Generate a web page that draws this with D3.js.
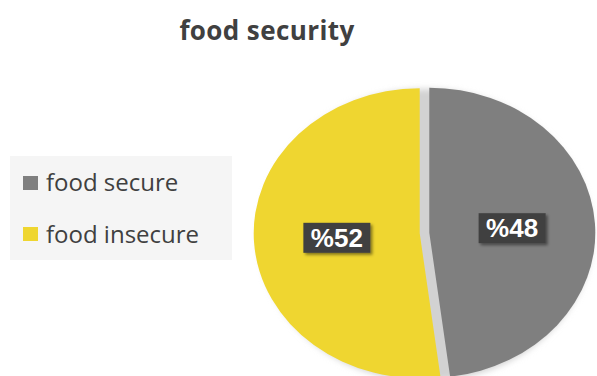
<!DOCTYPE html>
<html><head><meta charset="utf-8">
<script src="https://cdn.jsdelivr.net/npm/d3@7"></script>
<style>body{margin:0;background:#fff}svg{display:block}</style>
</head><body>
<svg id="c" width="597" height="376"></svg>
<script>
const title = "food security";
const categories = ["food secure", "food insecure"];
const values = [48, 52];
const labels = ["%48", "%52"];
const colors = ["#7f7f7f", "#efd630"];

const svg = d3.select("#c");
const defs = svg.append("defs");
const blur = defs.append("filter").attr("id","blur").attr("x","-20%").attr("y","-20%").attr("width","140%").attr("height","140%");
blur.append("feGaussianBlur").attr("stdDeviation", 3);
const ds = defs.append("filter").attr("id","ds").attr("x","-20%").attr("y","-30%").attr("width","150%").attr("height","170%");
ds.append("feDropShadow").attr("dx",2).attr("dy",2).attr("stdDeviation",1.5).attr("flood-color","#000").attr("flood-opacity",0.45);

svg.append("rect").attr("width",597).attr("height",376).attr("fill","#fff");

// title
svg.append("text").attr("x",267).attr("y",40).attr("text-anchor","middle")
  .attr("font-family","Open Sans, sans-serif").attr("font-weight","bold").attr("font-size",26)
  .attr("letter-spacing",0.4).attr("fill","#404040").text(title);

// legend
const lg = svg.append("g");
lg.append("rect").attr("x",10).attr("y",156).attr("width",222).attr("height",104).attr("fill","#f5f5f5");
categories.forEach((c,i)=>{
  lg.append("rect").attr("x",23).attr("y",176+i*51).attr("width",15).attr("height",14).attr("fill",colors[i]);
  lg.append("text").attr("x",46).attr("y",191+i*52).attr("font-family","Open Sans, sans-serif")
    .attr("font-size",24).attr("fill","#404040").text(c);
});

// pie
const cx = 424.5, cy = 233, R = 166, RY = 145, sy = RY / R, explode = 4.8;
const pie = d3.pie().sort(null).value(d => d);
const arcs = pie(values);
const arc = d3.arc().innerRadius(0).outerRadius(R);

svg.append("ellipse").attr("cx",cx+1).attr("cy",cy+2).attr("rx",R+1).attr("ry",RY+1)
  .attr("fill","#d2d2d2").attr("filter","url(#blur)");

arcs.forEach((a,i)=>{
  const mid = (a.startAngle + a.endAngle)/2;
  const ox = cx + Math.sin(mid)*explode, oy = cy - Math.cos(mid)*explode*sy;
  svg.append("g").attr("transform",`translate(${ox},${oy}) scale(1,${sy})`)
    .append("path").attr("d",arc(a)).attr("fill",colors[i]);
  const [lx,ly] = arc.centroid(a);
  const px = ox + lx, py = oy + ly*sy;
  const g = svg.append("g").attr("transform",`translate(${px},${py})`);
  g.append("rect").attr("x",-33.5).attr("y",-15).attr("width",67).attr("height",30)
    .attr("fill","#404040").attr("filter","url(#ds)");
  g.append("text").attr("x",0).attr("y",9).attr("text-anchor","middle")
    .attr("font-family","Liberation Sans, Arial, sans-serif").attr("font-weight","bold")
    .attr("font-size",26).attr("fill","#fff").text(labels[i]);
});
</script>
</body></html>
